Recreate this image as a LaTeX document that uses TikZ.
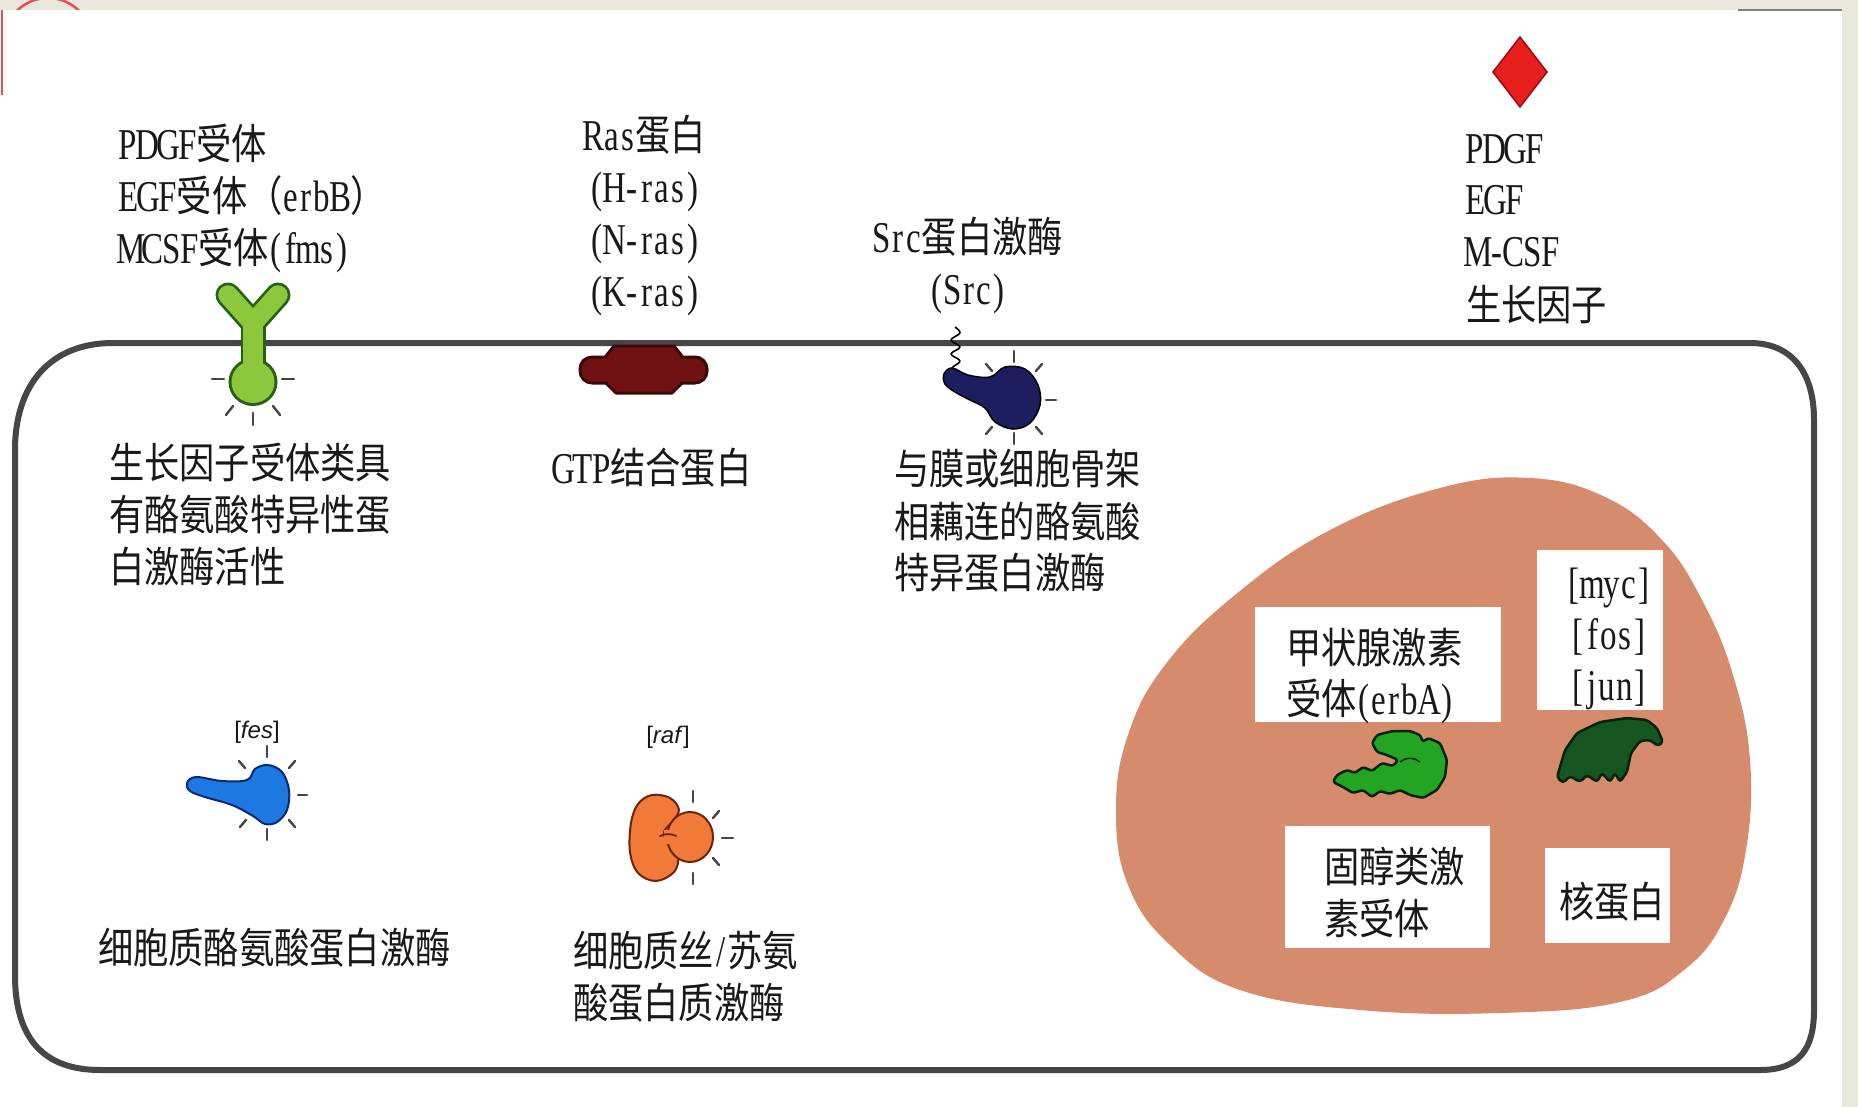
\documentclass[tikz,border=0pt]{standalone}
\usepackage{fontspec}
\setmainfont{Noto Sans CJK SC}[FakeStretch=0.84]
\newfontfamily\latinfont{Liberation Serif}[FakeStretch=0.75]
\newfontfamily\labelfont{Liberation Sans}

% colours
\definecolor{paper}{RGB}{233,231,218}
\definecolor{ink}{RGB}{25,25,25}
\definecolor{wall}{RGB}{70,70,70}
\definecolor{raygray}{RGB}{70,70,70}
\definecolor{nucleus}{RGB}{214,139,108}
\definecolor{ygreen}{RGB}{141,200,60}
\definecolor{ydark}{RGB}{40,95,25}
\definecolor{rasred}{RGB}{112,18,20}
\definecolor{rasdark}{RGB}{60,8,10}
\definecolor{srcblue}{RGB}{28,30,95}
\definecolor{fesblue}{RGB}{30,120,225}
\definecolor{fesdark}{RGB}{10,40,120}
\definecolor{raforange}{RGB}{242,122,56}
\definecolor{rafdark}{RGB}{110,35,10}
\definecolor{erbgreen}{RGB}{35,165,35}
\definecolor{mycgreen}{RGB}{20,85,32}
\definecolor{leafdark}{RGB}{8,35,10}
\definecolor{gfred}{RGB}{232,30,28}
\definecolor{gfdark}{RGB}{150,15,15}
\definecolor{stamp}{RGB}{225,80,90}

% half-width Latin: each character gets a cell halfway between its own
% width and a fixed half-em cell
\makeatletter
\newlength\hwadv
\setlength\hwadv{17.75pt}
\newlength\hw@w
\newcommand\hwtxt[1]{{\latinfont\fontsize{44}{50}\selectfont
  \@tfor\hw@c:=#1\do{\settowidth\hw@w{\hw@c}%
    \makebox[\dimexpr(\hw@w+\hwadv)/2\relax][c]{\hw@c}}}}
\makeatother

\tikzset{
  lbl/.style={inner sep=0pt, outer sep=0pt, text=ink, font=\fontsize{42}{48}\selectfont},
  gene/.style={inner sep=0pt, outer sep=0pt, text=ink, font=\labelfont\fontsize{24}{28}\selectfont},
  ray/.style={draw=raygray, line width=2.4, line cap=round},
  nbox/.style={fill=white, draw=none, inner sep=0pt, anchor=north west},
}

\begin{document}
\begin{tikzpicture}[x=1pt, y=-1pt]
\useasboundingbox (0,0) rectangle (1858,1107);

% page
\fill[paper] (0,0) rectangle (1858,1107);
\fill[white] (0,10) rectangle (1842,1107);
\draw[gray, line width=2] (1738,10.5) -- (1842,10.5);
\draw[stamp, line width=2] (1.5,10) -- (1.5,95);
\begin{scope}
  \clip (0,0) rectangle (120,10);
  \draw[stamp, line width=2.5] (48,42) circle (44);
\end{scope}

% nucleus
\fill[nucleus] plot[smooth cycle, tension=0.7] coordinates {
  (1530,478) (1605,497) (1662,540) (1702,600) (1733,675) (1750,760)
  (1746,850) (1724,920) (1684,970) (1620,1002) (1500,1013) (1360,1010)
  (1240,990) (1170,945) (1128,885) (1116,810) (1128,735) (1165,665)
  (1235,595) (1330,530) (1440,488)};

% cell membrane
\draw[wall, line width=6]
  (15,450) .. controls (15,385) and (50,343) .. (113,343)
  -- (1750,343) .. controls (1790,343) and (1814,370) .. (1814,420)
  -- (1814,1010) .. controls (1814,1048) and (1800,1070) .. (1760,1070)
  -- (100,1070) .. controls (45,1070) and (15,1040) .. (15,975) -- cycle;

% growth factor (diamond)
\filldraw[fill=gfred, draw=gfdark, line width=1.5]
  (1520,37) -- (1547,72) -- (1520,107) -- (1493,72) -- cycle;

% growth factor receptor (Y)
\draw[ydark, line width=25, line cap=round, line join=round] (228,295) -- (253,323) -- (278,295);
\draw[ydark, line width=25] (253,323) -- (253,372);
\fill[ydark] (253,382) ellipse (24.5 and 24);
\draw[ygreen, line width=19.5, line cap=round, line join=round] (228,295) -- (253,323) -- (278,295);
\draw[ygreen, line width=19.5] (253,320) -- (253,372);
\fill[ygreen] (253,382) ellipse (21.5 and 21);
\draw[ray] (212,379) -- (224,379);
\draw[ray] (282,379) -- (294,379);
\draw[ray] (233,406) -- (226,415);
\draw[ray] (273,406) -- (280,415);
\draw[ray] (253,413) -- (253,425);

% Ras
\filldraw[rasdark, line width=3, rounded corners=12] (580,357) rectangle (707,383);
\filldraw[rasdark, line width=3, line join=round]
  (606,356) -- (614,346) -- (674,346) -- (682,356) -- (682,383) -- (672,393) -- (616,393) -- (606,383) -- cycle;
\fill[rasred, rounded corners=11] (581.5,358.5) rectangle (705.5,381.5);
\fill[rasred] (607.5,356.5) -- (615,347.5) -- (673,347.5) -- (680.5,356.5) -- (680.5,382.5) -- (671,391.5) -- (617,391.5) -- (607.5,382.5) -- cycle;

% Src with membrane anchor
\draw[black, line width=1.6, line join=round] plot[smooth, tension=0.6] coordinates {
  (955,327) (960,333) (951,340) (960,347) (951,354) (960,361) (952,368) (955,374)};
\filldraw[fill=srcblue, draw=black, line width=1.5] plot[smooth cycle, tension=0.6] coordinates {
  (944,374) (952,368) (968,375) (990,377) (1005,367) (1025,369) (1038,385)
  (1040,405) (1030,423) (1013,429) (995,422) (985,408) (970,400) (955,392) (945,384)};
\draw[ray] (1014,351) -- (1014,362);
\draw[ray] (986,364) -- (992,371);
\draw[ray] (1042,364) -- (1036,371);
\draw[ray] (1046,400) -- (1056,400);
\draw[ray] (1036,427) -- (1042,434);
\draw[ray] (1014,433) -- (1014,444);
\draw[ray] (992,427) -- (986,434);

% fes
\filldraw[fill=fesblue, draw=fesdark, line width=2] plot[smooth cycle, tension=0.6] coordinates {
  (187,783) (196,777) (222,781) (247,780) (255,769) (268,765) (282,772)
  (289,790) (287,810) (277,822) (265,824) (253,816) (232,805) (205,797) (190,791)};
\draw[ray] (267,746) -- (267,757);
\draw[ray] (239,761) -- (245,768);
\draw[ray] (295,761) -- (289,768);
\draw[ray] (298,795) -- (307,795);
\draw[ray] (289,820) -- (295,827);
\draw[ray] (267,829) -- (267,840);
\draw[ray] (246,820) -- (240,827);

% raf
\filldraw[fill=raforange, draw=rafdark, line width=2] plot[smooth cycle, tension=0.6] coordinates {
  (652,795) (670,798) (679,810) (672,822) (664,832) (668,843) (678,856)
  (674,872) (656,881) (638,873) (630,852) (631,823) (638,804)};
\filldraw[fill=raforange, draw=rafdark, line width=2] (690,837) ellipse (23 and 25);
\fill[raforange] (664,830) rectangle (673,844);
\draw[rafdark, line width=1.8, line cap=round] (660,836) .. controls (666,833) and (672,834) .. (676,836);
\draw[ray] (693,791) -- (693,802);
\draw[ray] (719,811) -- (713,818);
\draw[ray] (722,838) -- (733,838);
\draw[ray] (713,858) -- (719,865);
\draw[ray] (693,873) -- (693,884);

% nuclear label boxes
\node[nbox, minimum width=246, minimum height=115] (boxerba) at (1255,607) {};
\node[nbox, minimum width=126, minimum height=160] (boxmyc) at (1537,550) {};
\node[nbox, minimum width=205, minimum height=122] (boxster) at (1285,826) {};
\node[nbox, minimum width=125, minimum height=95] (boxnuc) at (1545,848) {};

% erbA protein
\filldraw[fill=erbgreen, draw=leafdark, line width=2.5, rounded corners=2.5]
  (1372,743) -- (1377,735) -- (1393,731) -- (1410,731) -- (1420,735) -- (1423,742)
  -- (1428,738) -- (1440,743) -- (1447,760) -- (1445,777) -- (1437,790) -- (1423,798)
  -- (1410,795) -- (1400,790) -- (1390,794) -- (1380,791) -- (1372,797) -- (1363,790)
  -- (1353,793) -- (1343,787) -- (1333,782) -- (1337,775) -- (1347,770) -- (1355,773)
  -- (1363,767) -- (1372,771) -- (1382,763) -- (1393,766) -- (1398,760) -- (1387,755)
  -- (1377,752) -- cycle;
\draw[leafdark, line width=1.5] (1400,762) .. controls (1408,756) and (1415,758) .. (1420,762);

% nuclear oncoprotein (myc/fos/jun)
\filldraw[fill=mycgreen, draw=leafdark, line width=2.5, rounded corners=3]
  (1557,777) -- (1565,750) -- (1577,733) -- (1600,722) -- (1627,718) -- (1647,720)
  -- (1657,728) -- (1663,742) -- (1658,746) -- (1650,740) -- (1640,741) -- (1631,753)
  -- (1627,772) -- (1620,782) -- (1615,773) -- (1610,782) -- (1602,773) -- (1597,782)
  -- (1587,775) -- (1580,782) -- (1570,776) -- (1563,783) -- cycle;

% labels above the membrane
\node[lbl, anchor=base west] (rec1) at (119,160) {\hwtxt{PDGF}受体};
\node[lbl, anchor=base west] (rec2) at (119,212) {\hwtxt{EGF}受体（\hwtxt{erbB}）};
\node[lbl, anchor=base west] (rec3) at (119,264) {\hwtxt{MCSF}受体\hwtxt{(fms)}};

\node[lbl, anchor=base] (ras1) at (645,151) {\hwtxt{Ras}蛋白};
\node[lbl, anchor=base] (ras2) at (645,203) {\hwtxt{(H-ras)}};
\node[lbl, anchor=base] (ras3) at (645,255) {\hwtxt{(N-ras)}};
\node[lbl, anchor=base] (ras4) at (645,307) {\hwtxt{(K-ras)}};

\node[lbl, anchor=base] (src1) at (968,253) {\hwtxt{Src}蛋白激酶};
\node[lbl, anchor=base] (src2) at (968,305) {\hwtxt{(Src)}};

\node[lbl, anchor=base west] (gf1) at (1466,164) {\hwtxt{PDGF}};
\node[lbl, anchor=base west] (gf2) at (1466,215) {\hwtxt{EGF}};
\node[lbl, anchor=base west] (gf3) at (1466,267) {\hwtxt{M-CSF}};
\node[lbl, anchor=base west] (gf4) at (1466,321) {生长因子};

% labels inside the cell
\node[lbl, anchor=base west] (rtk1) at (109,478) {生长因子受体类具};
\node[lbl, anchor=base west] (rtk2) at (109,530) {有酪氨酸特异性蛋};
\node[lbl, anchor=base west] (rtk3) at (109,582) {白激酶活性};

\node[lbl, anchor=base] (gtp) at (652,483) {\hwtxt{GTP}结合蛋白};

\node[lbl, anchor=base west] (mem1) at (894,484) {与膜或细胞骨架};
\node[lbl, anchor=base west] (mem2) at (894,537) {相藕连的酪氨酸};
\node[lbl, anchor=base west] (mem3) at (894,588) {特异蛋白激酶};

\node[gene, anchor=base] (fes) at (257,738) {[\textit{fes}]};
\node[gene, anchor=base] (raf) at (668,743) {[\textit{raf}]};

\node[lbl, anchor=base west] (cyt1) at (98,963) {细胞质酪氨酸蛋白激酶};
\node[lbl, anchor=base west] (ser1) at (573,966) {细胞质丝\hwtxt{/}苏氨};
\node[lbl, anchor=base west] (ser2) at (573,1018) {酸蛋白质激酶};

% labels in the nucleus
\node[lbl, anchor=base west] (erba1) at (1286,663) {甲状腺激素};
\node[lbl, anchor=base west] (erba2) at (1286,714) {受体\hwtxt{(erbA)}};
\node[lbl, anchor=base] (myc) at (1609,598) {\hwtxt{[myc]}};
\node[lbl, anchor=base] (fos) at (1609,649) {\hwtxt{[fos]}};
\node[lbl, anchor=base] (jun) at (1609,700) {\hwtxt{[jun]}};
\node[lbl, anchor=base west] (ster1) at (1324,882) {固醇类激};
\node[lbl, anchor=base west] (ster2) at (1324,934) {素受体};
\node[lbl, anchor=base west] (nucp) at (1559,917) {核蛋白};

\end{tikzpicture}
\end{document}
